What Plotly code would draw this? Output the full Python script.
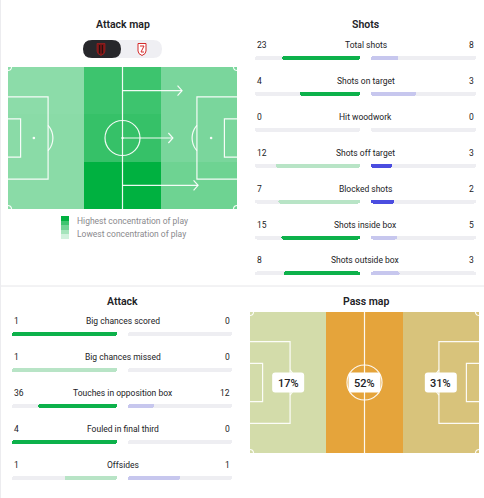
import numpy as np
import plotly.graph_objects as go

# ---------------- data ----------------
shot_labels = ["Total shots", "Shots on target", "Hit woodwork", "Shots off target",
               "Blocked shots", "Shots inside box", "Shots outside box"]
shot_home = [23, 4, 0, 12, 7, 15, 8]
shot_away = [8, 3, 0, 3, 2, 5, 3]
shot_higher_better = [True, True, True, False, False, True, True]

attack_labels = ["Big chances scored", "Big chances missed", "Touches in opposition box",
                 "Fouled in final third", "Offsides"]
attack_home = [1, 1, 36, 4, 1]
attack_away = [0, 0, 12, 0, 1]
attack_higher_better = [True, False, True, True, False]

# attack map: concentration of play per zone (rows top->bottom, cols own goal -> opp goal)
attack_map_intensity = [
    [0.45, 0.76, 0.52],
    [0.46, 0.79, 0.52],
    [0.46, 1.00, 0.57],
]
# how far (fraction of pitch length) attacks progress in each lane
attack_arrow_reach = [0.76, 0.72, 0.83]
legend_levels = [1.0, 0.75, 0.55, 0.35, 0.18]
legend_texts = ["Highest concentration of play", "Lowest concentration of play"]

# pass map: share of passes per third
pass_zone_share = [17, 52, 31]
pass_zone_labels = [f"{v}%" for v in pass_zone_share]

panel_titles = ["Attack map", "Shots", "Attack", "Pass map"]

# ---------------- style / layout ----------------
W, H = 484, 498
FONT = "Roboto"
DARK = "#222226"
GREEN = "#0db14b"
GREEN_PALE = "#b8e4c6"
BLUE = "#4b4de0"
BLUE_PALE = "#c7c7ee"
TRACK = "#eeeef2"
LINE = "rgba(255,255,255,0.92)"

fig = go.Figure()
shapes = []
annotations = []


def ann(x, y, text, size=8.5, color=DARK, xanchor="center", weight=None, **kw):
    f = dict(family=FONT, size=size, color=color)
    if weight:
        f["weight"] = weight
    annotations.append(dict(x=x, y=y, xref="x", yref="y", text=text, showarrow=False,
                            xanchor=xanchor, yanchor="middle", font=f, **kw))


def poly(cx, cy, r, angs):
    a = np.radians(angs)
    xs = cx + r * np.cos(a)
    ys = cy + r * np.sin(a)
    return "M " + " L ".join(f"{x:.2f},{y:.2f}" for x, y in zip(xs, ys))


def rrect(x0, y0, x1, y1, r):
    return (f"M {x0+r},{y0} L {x1-r},{y0} Q {x1},{y0} {x1},{y0+r} L {x1},{y1-r} "
            f"Q {x1},{y1} {x1-r},{y1} L {x0+r},{y1} Q {x0},{y1} {x0},{y1-r} "
            f"L {x0},{y0+r} Q {x0},{y0} {x0+r},{y0} Z")


def pitch_lines(x0, y0, x1, y1):
    L = x1 - x0
    Hh = y1 - y0
    cx, cy = (x0 + x1) / 2, (y0 + y1) / 2
    pb_d, pb_h = 0.175 * L, 0.58 * Hh
    ga_d, ga_h = 0.055 * L, 0.27 * Hh
    spot = 0.113 * L
    r_c, r_d = 17.5, 19
    line = dict(color=LINE, width=1.2)
    s = [dict(type="line", x0=cx, x1=cx, y0=y0, y1=y1, line=line),
         dict(type="circle", x0=cx - r_c, x1=cx + r_c, y0=cy - r_c, y1=cy + r_c, line=line),
         dict(type="circle", x0=cx - 1.2, x1=cx + 1.2, y0=cy - 1.2, y1=cy + 1.2,
              fillcolor=LINE, line=dict(width=0))]
    for gx, sg in ((x0, 1), (x1, -1)):
        bx = gx + sg * pb_d
        s.append(dict(type="path", line=line,
                      path=f"M {gx},{cy-pb_h/2} L {bx},{cy-pb_h/2} L {bx},{cy+pb_h/2} L {gx},{cy+pb_h/2}"))
        gax = gx + sg * ga_d
        s.append(dict(type="path", line=line,
                      path=f"M {gx},{cy-ga_h/2} L {gax},{cy-ga_h/2} L {gax},{cy+ga_h/2} L {gx},{cy+ga_h/2}"))
        px = gx + sg * spot
        s.append(dict(type="circle", x0=px - 1.3, x1=px + 1.3, y0=cy - 1.3, y1=cy + 1.3,
                      fillcolor=LINE, line=dict(width=0)))
        a = np.degrees(np.arccos((pb_d - spot) / r_d))
        angs = np.linspace(-a, a, 24) if sg == 1 else np.linspace(180 - a, 180 + a, 24)
        s.append(dict(type="path", path=poly(px, cy, r_d, angs), line=line))
    rc = 3.5
    for (ccx, ccy, a0, a1) in ((x0, y0, 0, 90), (x1, y0, 90, 180), (x1, y1, 180, 270), (x0, y1, 270, 360)):
        s.append(dict(type="path", path=poly(ccx, ccy, rc, np.linspace(a0, a1, 10)), line=line))
    return s


# ---------------- Attack map ----------------
AX0, AY0, AX1, AY1 = 8, 67, 237, 209
ncol = len(attack_map_intensity[0])
nrow = len(attack_map_intensity)
a_xedges = list(np.linspace(AX0, AX1, ncol + 1))
a_yedges = list(np.linspace(AY0, AY1, nrow + 1))
green_scale = [[0, "#ffffff"], [1, "#00b140"]]
fig.add_trace(go.Heatmap(z=attack_map_intensity, x=a_xedges, y=a_yedges, zmin=0, zmax=1,
                         colorscale=green_scale, showscale=False, hoverinfo="skip",
                         xaxis="x", yaxis="y"))
shapes += pitch_lines(AX0, AY0, AX1, AY1)
acx = (AX0 + AX1) / 2
for i, reach in enumerate(attack_arrow_reach):
    ly = (a_yedges[i] + a_yedges[i + 1]) / 2
    ex = AX0 + reach * (AX1 - AX0)
    ln = dict(color=LINE, width=1.2)
    shapes.append(dict(type="line", x0=acx, x1=ex, y0=ly, y1=ly, line=ln))
    shapes.append(dict(type="path", path=f"M {ex-4.5},{ly-5} L {ex},{ly} L {ex-4.5},{ly+5}", line=ln))

# legend swatch
sw_edges = list(np.linspace(216, 239, len(legend_levels) + 1))
fig.add_trace(go.Heatmap(z=[[v] for v in legend_levels], x=[61, 69], y=sw_edges, zmin=0, zmax=1,
                         colorscale=green_scale, showscale=False, hoverinfo="skip",
                         xaxis="x", yaxis="y"))
ann(75, 221, legend_texts[0], size=8.5, color="#8a8a8e", xanchor="left")
ann(75, 234, legend_texts[1], size=8.5, color="#8a8a8e", xanchor="left")

# team toggle pill
shapes.append(dict(type="path", path=rrect(83, 40, 162, 58, 9), fillcolor="#efeff3", line=dict(width=0)))
shapes.append(dict(type="path", path=rrect(83, 40, 121, 58, 9), fillcolor="#27272b", line=dict(width=0)))
# left crest
shapes.append(dict(type="path", path="M 97,43.5 L 105,43.5 L 105,51 Q 105,54 101,55.5 Q 97,54 97,51 Z",
                   fillcolor="#7a1616", line=dict(color="#b02020", width=0.6)))
shapes.append(dict(type="line", x0=99.7, x1=99.7, y0=45, y1=53.5, line=dict(color="#111", width=1)))
shapes.append(dict(type="line", x0=102.3, x1=102.3, y0=45, y1=53.5, line=dict(color="#111", width=1)))
# right crest
shapes.append(dict(type="path", path="M 138,43.5 L 146,43.5 L 146,51 Q 146,54 142,55.5 Q 138,54 138,51 Z",
                   fillcolor="#ffffff", line=dict(color="#d42a2a", width=1)))
shapes.append(dict(type="path", path="M 140,46 L 144,46 L 141,52 L 144,52",
                   line=dict(color="#d42a2a", width=1)))

# ---------------- Pass map ----------------
PX0, PY0, PX1, PY1 = 250, 312, 479, 453
p_xedges = list(np.linspace(PX0, PX1, len(pass_zone_share) + 1))
zmn, zmx = min(pass_zone_share), max(pass_zone_share)
pass_scale = [[0, "#d3dcaa"], [0.4, "#d8c37b"], [1, "#e5a43b"]]
fig.add_trace(go.Heatmap(z=[pass_zone_share], x=p_xedges, y=[PY0, PY1], zmin=zmn, zmax=zmx,
                         colorscale=pass_scale, showscale=False, hoverinfo="skip",
                         xaxis="x", yaxis="y"))
shapes += pitch_lines(PX0, PY0, PX1, PY1)
pcy = (PY0 + PY1) / 2
for i, lab in enumerate(pass_zone_labels):
    cx = (p_xedges[i] + p_xedges[i + 1]) / 2
    shapes.append(dict(type="path", path=rrect(cx - 16, pcy - 10, cx + 16, pcy + 10, 3),
                       fillcolor="#ffffff", line=dict(width=0), layer="above"))
    ann(cx, pcy + 0.5, lab, size=11, weight=500)


# ---------------- stat bar panels ----------------
def stat_panel(labels, home, away, hib, xl, xr, bar_y0, step, cx, nlx, nrx):
    n = len(labels)
    ys = [bar_y0 + i * step for i in range(n)]
    tot = [h + a for h, a in zip(home, away)]
    hs = [h / t if t else 0 for h, t in zip(home, tot)]
    aw = [a / t if t else 0 for a, t in zip(away, tot)]
    hb = [(h > a) if up else (h < a) for h, a, up in zip(home, away, hib)]
    ab = [(a > h) if up else (a < h) for h, a, up in zip(home, away, hib)]
    hcol = [GREEN if b else GREEN_PALE for b in hb]
    acol = [BLUE if b else BLUE_PALE for b in ab]
    for xa, vals, cols in ((xl, hs, hcol), (xr, aw, acol)):
        fig.add_trace(go.Bar(x=[1] * n, y=ys, base=0, orientation="h", width=4,
                             marker=dict(color=TRACK, cornerradius=2, line=dict(width=0)),
                             xaxis=xa, yaxis="y", hoverinfo="skip"))
        fig.add_trace(go.Bar(x=vals, y=ys, base=0, orientation="h", width=4,
                             marker=dict(color=cols, cornerradius=2, line=dict(width=0)),
                             xaxis=xa, yaxis="y", hoverinfo="skip"))
    for i in range(n):
        ty = ys[i] - 13
        ann(nlx, ty, str(home[i]), xanchor="left", size=8.5)
        ann(nrx, ty, str(away[i]), xanchor="right", size=8.5)
        ann(cx, ty, labels[i], size=8.5)


stat_panel(shot_labels, shot_home, shot_away, shot_higher_better, "x2", "x3",
           58, 35.9, 365.5, 255, 476)
stat_panel(attack_labels, attack_home, attack_away, attack_higher_better, "x4", "x5",
           334, 36, 122.5, 12, 232)

# titles
for (tx, ty), t in zip([(122.5, 24), (365.5, 24), (122.5, 301), (365.5, 301)], panel_titles):
    ann(tx, ty, t, size=10.5, weight=600)

# separators
shapes.append(dict(type="line", x0=0, x1=W, y0=286, y1=286, line=dict(color="#e6e6e9", width=1), layer="below"))
shapes.append(dict(type="line", x0=0.5, x1=0.5, y0=0, y1=H, line=dict(color="#ececef", width=1), layer="below"))

hidden = dict(visible=False, showgrid=False, zeroline=False, fixedrange=True)
fig.update_layout(
    width=W, height=H, margin=dict(l=0, r=0, t=0, b=0),
    paper_bgcolor="#ffffff", plot_bgcolor="rgba(0,0,0,0)",
    showlegend=False, barmode="overlay", bargap=0,
    xaxis=dict(range=[0, W], domain=[0, 1], anchor="y", **hidden),
    yaxis=dict(range=[H, 0], domain=[0, 1], anchor="x", **hidden),
    xaxis2=dict(range=[1, 0], domain=[255 / W, 360 / W], anchor="y", **hidden),
    xaxis3=dict(range=[0, 1], domain=[371 / W, 476 / W], anchor="y", **hidden),
    xaxis4=dict(range=[1, 0], domain=[12 / W, 117 / W], anchor="y", **hidden),
    xaxis5=dict(range=[0, 1], domain=[128 / W, 232 / W], anchor="y", **hidden),
    shapes=shapes, annotations=annotations,
)

fig.write_html("out.html", config={"displayModeBar": False, "staticPlot": True},
               post_script="document.body.style.margin='0';")
